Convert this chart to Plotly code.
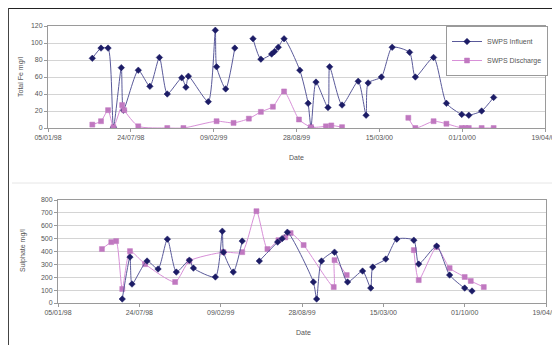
import plotly.graph_objects as go

# ---- data ----
fe_inf_dates = ["1998-04-22","1998-05-13","1998-05-30","1998-06-12","1998-07-01","1998-07-06",
                "1998-08-11","1998-09-08","1998-10-01","1998-10-20","1998-11-24","1998-12-04",
                "1998-12-10","1999-01-27","1999-02-13","1999-02-16","1999-03-10","1999-04-01",
                "1999-04-20",
                "1999-05-15","1999-06-03","1999-06-29","1999-07-06","1999-07-15","1999-07-29",
                "1999-09-05","1999-09-25","1999-10-02","1999-10-14","1999-11-12","1999-11-16",
                "1999-12-16","2000-01-24","2000-02-12","2000-02-17","2000-03-20","2000-04-15",
                "2000-05-27","2000-06-10","2000-07-24","2000-08-24","2000-09-30","2000-10-17",
                "2000-11-17","2000-12-16"]
fe_inf_vals = [82,94,94,1,71,21,68,49,83,40,59,48,61,31,115,72,46,94,None,
               105,81,87,90,95,105,68,29,1,54,24,72,27,55,15,53,60,95,89,60,83,29,16,15,20,36]

fe_dis_dates = ["1998-04-22","1998-05-13","1998-05-30","1998-06-12","1998-07-03","1998-07-08",
                "1998-08-11","1998-10-20","1998-11-28","1999-02-16","1999-03-29","1999-05-05",
                "1999-06-03","1999-07-02","1999-07-29","1999-09-03","1999-10-02","1999-11-07",
                "1999-11-20","1999-12-16","2000-03-01",
                "2000-05-24","2000-06-10","2000-07-24","2000-08-24","2000-09-30","2000-10-09",
                "2000-10-17","2000-11-17","2000-12-16"]
fe_dis_vals = [4,8,21,1,27,21,2,0,0,8,6,11,19,25,43,10,1,2,3,1,None,
               12,0,8,5,0,0,0,0,0]

so4_inf_dates = ["1998-06-12","1998-07-01","1998-07-06","1998-08-12","1998-09-08","1998-10-01",
                 "1998-10-23","1998-11-24","1998-12-04","1999-01-27","1999-02-13","1999-02-16",
                 "1999-03-12","1999-04-03","1999-04-20",
                 "1999-05-15","1999-06-29","1999-07-10","1999-07-23",
                 "1999-09-25","1999-10-03","1999-10-15","1999-11-16","1999-12-18","2000-01-24",
                 "2000-02-13","2000-02-18","2000-03-21","2000-04-17","2000-05-29","2000-06-10",
                 "2000-07-24","2000-08-25","2000-10-01","2000-10-19"]
so4_inf_vals = [31,357,147,326,264,496,240,333,271,202,558,395,240,481,None,
                326,473,500,550,163,31,326,395,163,248,116,279,341,496,488,302,442,217,116,93]

so4_dis_dates = ["1998-04-23","1998-05-16","1998-05-28","1998-06-12","1998-07-01","1998-08-07",
                 "1998-10-20","1998-11-24","1999-02-16","1999-04-03","1999-05-08","1999-06-04",
                 "1999-07-01","1999-07-18","1999-07-31","1999-09-01","1999-11-14","1999-11-16",
                 "1999-12-16","2000-03-01",
                 "2000-05-29","2000-06-10","2000-07-24","2000-08-25","2000-10-01","2000-10-16",
                 "2000-11-17"]
so4_dis_vals = [419,473,481,109,403,302,163,326,395,395,713,419,488,510,543,450,124,333,217,None,
                411,178,434,271,202,171,124]

tick_dates = ["1998-01-05","1998-07-24","1999-02-09","1999-08-28","2000-03-15","2000-10-01","2001-04-19"]
tick_labels = ["05/01/98","24/07/98","09/02/99","28/08/99","15/03/00","01/10/00","19/04/01"]

series_names = ["SWPS Influent", "SWPS Discharge"]
axis_titles = ["Total Fe mg/l", "Sulphate mg/l", "Date"]

# ---- styling ----
INF_LINE = "#5a5a9a"
INF_MARK = "#1c1c66"
DIS_LINE = "#d890d8"
DIS_MARK = "#c078c0"
FONT = "Liberation Sans"
TXT = "#555"
OFF = 8                      # page body margin in the browser
W, H = 560 - OFF, 345 - OFF

def px_x(p):
    return (p - OFF) / W

def px_y(p):
    return 1 - (p - OFF) / H

fig = go.Figure()

def add_series(x, y, xa, ya, name, line_c, mark_c, symbol, show):
    fig.add_trace(go.Scatter(
        x=x, y=y, xaxis=xa, yaxis=ya, name=name, showlegend=show,
        mode="lines+markers", connectgaps=False,
        line=dict(color=line_c, width=1, shape="spline", smoothing=0.6),
        marker=dict(symbol=symbol, size=5, color=mark_c,
                    line=dict(color=mark_c, width=0.5)),
    ))

add_series(fe_inf_dates, fe_inf_vals, "x", "y", series_names[0], INF_LINE, INF_MARK, "diamond", True)
add_series(fe_dis_dates, fe_dis_vals, "x", "y", series_names[1], DIS_LINE, DIS_MARK, "square", True)
add_series(so4_dis_dates, so4_dis_vals, "x2", "y2", series_names[1], DIS_LINE, DIS_MARK, "square", False)
add_series(so4_inf_dates, so4_inf_vals, "x2", "y2", series_names[0], INF_LINE, INF_MARK, "diamond", False)

xcommon = dict(
    type="date", range=["1998-01-05", "2001-04-19"],
    tickmode="array", tickvals=tick_dates, ticktext=tick_labels,
    showgrid=False, showline=True, linecolor="#9a9a9a", linewidth=1, mirror=True,
    ticks="outside", ticklen=3, tickcolor="#9a9a9a",
    tickfont=dict(family=FONT, size=7, color=TXT),
    zeroline=False, fixedrange=True, automargin=False,
)
ycommon = dict(
    showgrid=True, gridcolor="#d4d4d4", gridwidth=1,
    showline=True, linecolor="#9a9a9a", linewidth=1, mirror=True,
    ticks="outside", ticklen=3, tickcolor="#9a9a9a",
    tickfont=dict(family=FONT, size=7, color=TXT),
    zeroline=False, fixedrange=True, automargin=False,
)

def ann(text, x, y, angle=0):
    return dict(text=text, xref="paper", yref="paper", x=px_x(x), y=px_y(y),
                xanchor="center", yanchor="middle", showarrow=False, textangle=angle,
                font=dict(family=FONT, size=7, color=TXT))

fig.update_layout(
    width=W, height=H,
    margin=dict(l=0, r=0, t=0, b=0, autoexpand=False),
    paper_bgcolor="white", plot_bgcolor="white",
    font=dict(family=FONT, size=7, color=TXT),
    xaxis=dict(xcommon, domain=[px_x(48), px_x(545)], anchor="y"),
    yaxis=dict(ycommon, domain=[px_y(128), px_y(26)], anchor="x", range=[0, 120], dtick=20),
    xaxis2=dict(xcommon, domain=[px_x(58), px_x(546)], anchor="y2"),
    yaxis2=dict(ycommon, domain=[px_y(303), px_y(200)], anchor="x2", range=[0, 800], dtick=100),
    legend=dict(
        x=px_x(446), y=px_y(26), xanchor="left", yanchor="top",
        bgcolor="white", bordercolor="#9a9a9a", borderwidth=1,
        font=dict(family=FONT, size=7, color=TXT),
        itemwidth=30, tracegroupgap=0,
    ),
    annotations=[
        ann(axis_titles[0], 21, 77, -90),
        ann(axis_titles[1], 23, 251, -90),
        ann(axis_titles[2], 296, 157),
        ann(axis_titles[2], 303, 332),
    ],
    shapes=[
        dict(type="line", xref="paper", yref="paper", x0=0, x1=1, y0=1, y1=1,
             line=dict(color="#222", width=2)),
        dict(type="line", xref="paper", yref="paper", x0=0, x1=0, y0=0, y1=1,
             line=dict(color="#444", width=2)),
        dict(type="line", xref="paper", yref="paper", x0=px_x(12), x1=1, y0=px_y(183), y1=px_y(183),
             line=dict(color="#e6e6e6", width=1)),
    ],
)

fig.write_html("out.html")
